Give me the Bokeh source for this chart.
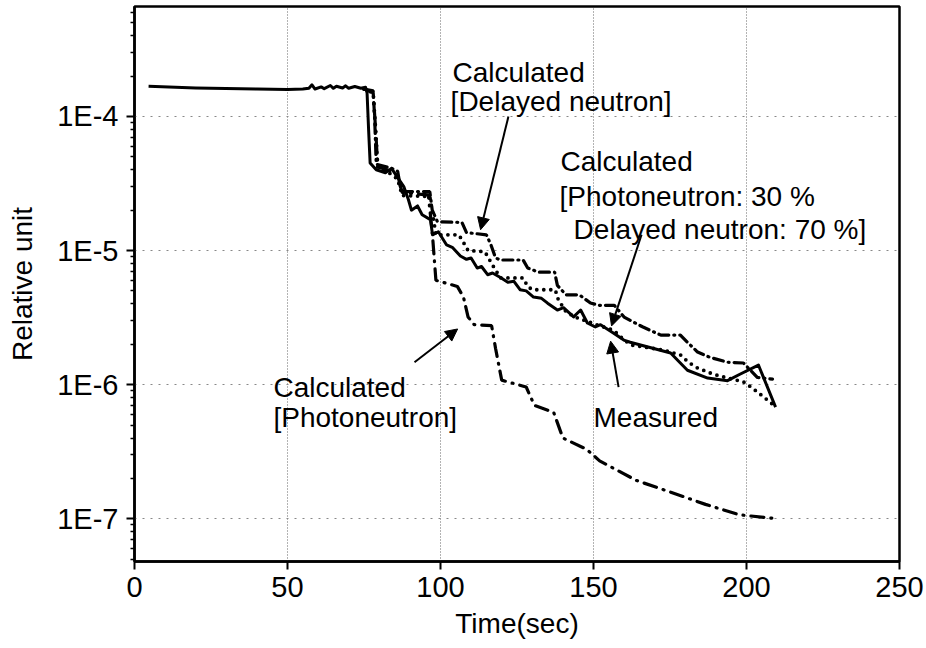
from bokeh.plotting import figure
from bokeh.models import FixedTicker, Label, Arrow, NormalHead, Range1d
from bokeh.embed import file_html
from bokeh.resources import INLINE

# ---- data ----
measured_t = [4.6, 20, 40, 50, 55, 57, 58, 59, 61, 62, 64, 65, 66, 68, 69, 70, 72, 74, 75.5,
              76, 76.5, 77, 79, 82, 84, 86, 88, 89.5, 90.5, 92.5, 94, 96.7, 97.4, 99.3, 102,
              104, 106.5, 108.5, 110, 112, 113.4, 115.4, 117, 119.6, 122, 124, 126, 128, 130.4,
              133, 135, 138.2, 140.2, 143.5, 145.8, 148, 150.6, 152.3, 156.6, 159.9, 162,
              175.2, 177.5, 180.7, 187.3, 193.8, 198, 203.9, 209.5]
measured_y = [1.68e-4, 1.63e-4, 1.6e-4, 1.59e-4, 1.6e-4, 1.62e-4, 1.72e-4, 1.6e-4, 1.66e-4,
              1.61e-4, 1.7e-4, 1.62e-4, 1.68e-4, 1.63e-4, 1.69e-4, 1.62e-4, 1.67e-4, 1.62e-4,
              1.65e-4, 1.5e-4, 8e-5, 4.5e-5, 4.0e-5, 3.8e-5, 4.1e-5, 3.5e-5, 3.0e-5, 2.4e-5,
              2.0e-5, 2.15e-5, 1.85e-5, 1.7e-5, 1.31e-5, 1.38e-5, 1.1e-5, 1.05e-5, 9.1e-6,
              8.6e-6, 8.8e-6, 7.4e-6, 7.6e-6, 6.6e-6, 6.8e-6, 6.3e-6, 5.8e-6, 5.9e-6, 5.1e-6,
              5.0e-6, 4.5e-6, 4.4e-6, 4.05e-6, 3.6e-6, 3.75e-6, 3.2e-6, 3.6e-6, 2.88e-6,
              2.69e-6, 2.8e-6, 2.42e-6, 2.15e-6, 2.07e-6, 1.72e-6, 1.52e-6, 1.28e-6, 1.12e-6,
              1.07e-6, 1.2e-6, 1.40e-6, 6.8e-7]

delayed_t = [75, 78, 78.5, 79, 84, 86, 87, 88, 96.5, 97.3, 99, 107, 108.5, 115, 116.5, 118,
             119.6, 127, 128.5, 132, 137.3, 138.2, 141, 145.4, 149, 152, 156.8, 160, 163, 166,
             172, 178.4, 180.7, 184, 188, 193.8, 199, 203.6, 208.5]
delayed_y = [1.6e-4, 1.55e-4, 9.5e-5, 4.4e-5, 4.1e-5, 3.9e-5, 2.9e-5, 2.75e-5, 2.75e-5,
             2.0e-5, 1.64e-5, 1.62e-5, 1.36e-5, 1.31e-5, 1.1e-5, 8.8e-6, 8.5e-6, 8.5e-6,
             7.4e-6, 6.9e-6, 6.9e-6, 5.5e-6, 4.67e-6, 4.67e-6, 4.06e-6, 3.9e-6, 3.9e-6,
             3.19e-6, 2.93e-6, 2.7e-6, 2.34e-6, 2.34e-6, 2.07e-6, 1.75e-6, 1.6e-6, 1.47e-6,
             1.45e-6, 1.13e-6, 1.1e-6]

mix_t = [75, 78, 78.8, 79.5, 84, 86, 87.5, 96.5, 97.5, 98.5, 106, 108, 109, 114.5, 117,
         119.6, 127, 128.5, 130, 137.5, 138.5, 141, 144, 151, 156.5, 160, 162.5, 173, 178.5,
         181, 184, 189, 193.8, 199, 202, 205, 209]
mix_y = [1.6e-4, 1.5e-4, 8e-5, 4.2e-5, 3.7e-5, 3.4e-5, 2.57e-5, 2.53e-5, 1.85e-5, 1.31e-5,
         1.31e-5, 1.1e-5, 1.0e-5, 9.8e-6, 7.8e-6, 6.25e-6, 6.25e-6, 5.4e-6, 5.1e-6, 5.1e-6,
         4.3e-6, 3.5e-6, 3.19e-6, 2.8e-6, 2.55e-6, 2.15e-6, 1.97e-6, 1.81e-6, 1.66e-6,
         1.47e-6, 1.33e-6, 1.2e-6, 1.12e-6, 1.05e-6, 9.4e-7, 8.3e-7, 7.0e-7]

photo_t = [75, 78, 78.8, 79.5, 84, 86, 87.5, 96, 97, 97.5, 98.5, 105.5, 107.5, 109, 111,
           116.7, 118, 120, 128, 130.7, 137, 140, 147.7, 152, 164, 175.5, 186.6, 197.7, 210]
photo_y = [1.6e-4, 1.5e-4, 8e-5, 4.2e-5, 3.9e-5, 3.6e-5, 2.7e-5, 2.6e-5, 1.6e-5, 1.2e-5,
           6.0e-6, 5.4e-6, 4.5e-6, 3.2e-6, 2.8e-6, 2.75e-6, 1.86e-6, 1.08e-6, 9.6e-7, 7.0e-7,
           6.2e-7, 4.0e-7, 3.3e-7, 2.7e-7, 1.93e-7, 1.57e-7, 1.28e-7, 1.07e-7, 1.0e-7]

x_ticks = [0, 50, 100, 150, 200, 250]
y_ticks = [1e-7, 1e-6, 1e-5, 1e-4]
y_tick_labels = ["1E-7", "1E-6", "1E-5", "1E-4"]
x_label = "Time(sec)"
y_label = "Relative unit"

FONT = "Liberation Sans"

p = figure(width=926, height=648, output_backend="svg", toolbar_location=None,
           y_axis_type="log", x_range=Range1d(0, 250), y_range=Range1d(4.8e-8, 6.6e-4),
           min_border_left=134, min_border_right=27, min_border_top=6, min_border_bottom=87)

p.background_fill_color = "white"
p.border_fill_color = "white"
p.outline_line_color = "black"
p.outline_line_width = 2.5

# ticks
minor = []
for e in range(-8, -3):
    for m in range(2, 10):
        v = m * 10.0 ** e
        if 4.8e-8 <= v <= 6.6e-4:
            minor.append(v)
p.yaxis.ticker = FixedTicker(ticks=y_ticks, minor_ticks=minor)
p.yaxis.major_label_overrides = dict(zip(y_ticks, y_tick_labels))
p.xaxis.ticker = FixedTicker(ticks=x_ticks)

for ax in (p.xaxis[0], p.yaxis[0]):
    ax.axis_line_width = 2.5
    ax.axis_line_color = "black"
    ax.major_tick_line_width = 2
    ax.major_tick_line_color = "black"
    ax.major_tick_in = 0
    ax.major_tick_out = 8
    ax.minor_tick_in = 0
    ax.minor_tick_out = 4
    ax.minor_tick_line_width = 1.5
    ax.minor_tick_line_color = "black"
    ax.major_label_text_font = FONT
    ax.major_label_text_font_size = "29px"
    ax.major_label_text_color = "black"
    ax.axis_label_text_font = FONT
    ax.axis_label_text_font_size = "28px"
    ax.axis_label_text_font_style = "normal"
    ax.axis_label_text_color = "black"

p.xaxis.minor_tick_line_color = None
p.xaxis.axis_label = x_label
p.yaxis.axis_label = y_label
p.xaxis.major_label_standoff = 7
p.xaxis.axis_label_standoff = 8
p.yaxis.major_label_standoff = 8
p.yaxis.axis_label_standoff = 16

p.xgrid.ticker = FixedTicker(ticks=x_ticks)
p.xgrid.grid_line_color = "#666666"
p.xgrid.grid_line_dash = "1 2"
p.xgrid.grid_line_width = 1
p.ygrid.grid_line_color = "#888888"
p.ygrid.grid_line_dash = "2 6"
p.ygrid.grid_line_width = 1

# curves
p.line(photo_t, photo_y, line_color="black", line_width=3.2, line_dash="13 7 1 7", line_cap="round")
p.line(delayed_t, delayed_y, line_color="black", line_width=3.2, line_dash="10 5 1 5", line_cap="round")
p.line(mix_t, mix_y, line_color="black", line_width=3.8, line_dash="0 7", line_cap="round")
p.line(measured_t, measured_y, line_color="black", line_width=3, line_join="round")

# annotations
def lab(x, y, t):
    p.add_layout(Label(x=x, y=y, text=t, text_font=FONT, text_font_size="28px",
                       text_color="black", text_baseline="alphabetic", text_align="left"))

lab(103.9, 2.13e-4, "Calculated")
lab(103.3, 1.29e-4, "[Delayed neutron]")
lab(139.2, 4.6e-5, "Calculated")
lab(138.9, 2.52e-5, "[Photoneutron: 30 %")
lab(143.5, 1.43e-5, "Delayed neutron: 70 %]")
lab(150.0, 5.7e-7, "Measured")
lab(45.4, 9.57e-7, "Calculated")
lab(45.4, 5.7e-7, "[Photoneutron]")

def arr(x0, y0, x1, y1, head=True):
    end = NormalHead(size=12, fill_color="black", line_color="black", line_width=1) if head else None
    p.add_layout(Arrow(x_start=x0, y_start=y0, x_end=x1, y_end=y1, end=end,
                       line_color="black", line_width=2))

arr(122.2, 1.0e-4, 113.1, 1.43e-5)
arr(165.7, 1.31e-5, 155.9, 2.74e-6)
arr(158.2, 9.57e-7, 155.6, 2.11e-6)
arr(91.5, 1.47e-6, 105.6, 2.6e-6)

open("out.html", "w").write(file_html(p, INLINE))
